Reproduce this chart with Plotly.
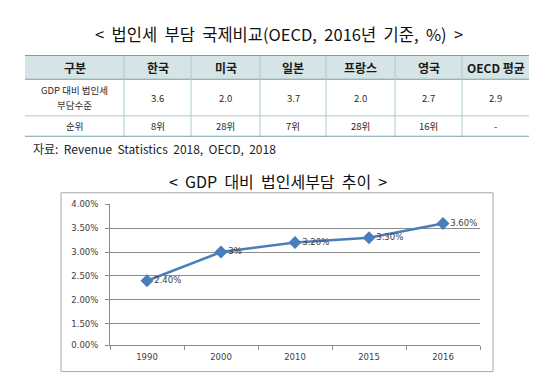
import plotly.graph_objects as go
from itertools import accumulate

# ---------- table data ----------
table_header = ["구분", "한국", "미국", "일본", "프랑스", "영국", "OECD 평균"]
burden_label_lines = ["GDP 대비 법인세", "부담수준"]
rank_label = "순위"
burden = ["3.6", "2.0", "3.7", "2.0", "2.7", "2.9"]
ranks = ["8위", "28위", "7위", "28위", "16위", "-"]

# ---------- line chart data ----------
years = ["1990", "2000", "2010", "2015", "2016"]
tax_share = [2.4, 3.0, 3.2, 3.3, 3.6]
point_labels = ["2.40%", "3%", "3.20%", "3.30%", "3.60%"]
y_tick_labels = ["0.00%", "1.50%", "2.00%", "2.50%", "3.00%", "3.50%", "4.00%"]
y_tick_values = [1.05, 1.5, 2.0, 2.5, 3.0, 3.5, 4.0]  # first tick is the axis floor (broken axis)

# ---------- table geometry (layout, not data) ----------
col_widths = [99, 67, 69, 66, 69, 67, 67]
row_heights = [25, 37.5, 21.5]
label_line_gap = 15

W, H = 550, 391
KR = "Noto Sans CJK KR"
TEAL = "#6fa3a8"
LIGHT_TEAL = "#a9cdd0"


def px(x):
    return x / W


def py(y):
    return 1 - y / H


col_edges = [0] + list(accumulate(col_widths))
row_edges = [0] + list(accumulate(row_heights))
col_centers = [(a + b) / 2 for a, b in zip(col_edges[:-1], col_edges[1:])]
row_centers = [(a + b) / 2 for a, b in zip(row_edges[:-1], row_edges[1:])]

fig = go.Figure()

fig.add_trace(go.Scatter(
    x=years, y=tax_share,
    mode="lines+markers+text",
    text=point_labels,
    textposition="middle right",
    textfont=dict(family="DejaVu Sans", size=8.5, color="#404040"),
    line=dict(color="#4a7ebb", width=2.5),
    marker=dict(symbol="diamond", size=10, color="#4a7ebb"),
    cliponaxis=False,
    showlegend=False,
    hoverinfo="skip",
))

shapes = []
annotations = []

# table: header fill
shapes.append(dict(type="rect", xref="x2", yref="y2", x0=col_edges[0], x1=col_edges[-1],
                   y0=row_edges[0], y1=row_edges[1], fillcolor="#d6e4e5", line=dict(width=0), layer="below"))
# inner horizontal lines
for r in row_edges[1:-1]:
    shapes.append(dict(type="line", xref="x2", yref="y2", x0=col_edges[0], x1=col_edges[-1], y0=r, y1=r,
                       line=dict(color=TEAL if r == row_edges[1] else LIGHT_TEAL, width=1)))
# vertical dividers
for c in col_edges[1:-1]:
    shapes.append(dict(type="line", xref="x2", yref="y2", x0=c, x1=c, y0=row_edges[0], y1=row_edges[-1],
                       line=dict(color=LIGHT_TEAL, width=1)))
# thick top/bottom borders
for r in (row_edges[0], row_edges[-1]):
    shapes.append(dict(type="line", xref="x2", yref="y2", x0=col_edges[0], x1=col_edges[-1], y0=r, y1=r,
                       line=dict(color=TEAL, width=2)))


def cell_text(txt, ci, y, header=False):
    annotations.append(dict(
        text=("<b>%s</b>" % txt) if header else txt, xref="x2", yref="y2", x=col_centers[ci], y=y,
        xanchor="center", yanchor="middle", showarrow=False,
        font=dict(family=KR, size=12 if header else 9.5, color="#1a1a1a" if header else "#2a2a2a"),
    ))


for ci, h in enumerate(table_header):
    cell_text(h, ci, row_centers[0], header=True)

n_lines = len(burden_label_lines)
for li, line in enumerate(burden_label_lines):
    cell_text(line, 0, row_centers[1] + (li - (n_lines - 1) / 2) * label_line_gap)
for ci, v in enumerate(burden, start=1):
    cell_text(v, ci, row_centers[1])

cell_text(rank_label, 0, row_centers[2])
for ci, v in enumerate(ranks, start=1):
    cell_text(v, ci, row_centers[2])

# chart area border
shapes.append(dict(type="rect", xref="paper", yref="paper", x0=px(53), x1=px(485), y0=py(368), y1=py(184.5),
                   line=dict(color="#a6a6a6", width=1), fillcolor="rgba(0,0,0,0)", layer="below"))

annotations += [
    dict(text="&lt;  법인세  부담  국제비교(OECD,  2016년  기준,  %)  &gt;", xref="paper", yref="paper",
         x=px(271), y=py(22), xanchor="center", yanchor="middle", showarrow=False,
         font=dict(family=KR, size=16.5, color="#111111")),
    dict(text="자료:  Revenue  Statistics  2018,  OECD,  2018", xref="paper", yref="paper",
         x=px(23), y=py(139), xanchor="left", yanchor="middle", showarrow=False,
         font=dict(family=KR, size=12, color="#222222")),
    dict(text="&lt;  GDP  대비  법인세부담  추이  &gt;", xref="paper", yref="paper",
         x=px(270), y=py(172.5), xanchor="center", yanchor="middle", showarrow=False,
         font=dict(family=KR, size=16, color="#111111")),
]

fig.update_layout(
    width=W, height=H,
    margin=dict(l=0, r=0, t=0, b=0),
    paper_bgcolor="white",
    plot_bgcolor="white",
    showlegend=False,
    xaxis=dict(
        domain=[px(102), px(472)],
        type="category",
        range=[-0.5, 4.5],
        showline=True, linecolor="#8a8a8a", linewidth=1,
        ticks="outside", tickson="boundaries", ticklen=4, tickcolor="#8a8a8a",
        ticklabelstandoff=4,
        showgrid=False, zeroline=False,
        tickfont=dict(family="DejaVu Sans", size=8.5, color="#404040"),
        fixedrange=True,
    ),
    yaxis=dict(
        domain=[py(341), py(196.3)],
        range=[y_tick_values[0], y_tick_values[-1]],
        tickmode="array", tickvals=y_tick_values, ticktext=y_tick_labels,
        showline=True, linecolor="#8a8a8a", linewidth=1,
        ticks="outside", ticklen=4, tickcolor="#8a8a8a",
        ticklabelstandoff=5,
        showgrid=True, gridcolor="#8c8c8c", gridwidth=1,
        zeroline=False,
        tickfont=dict(family="DejaVu Sans", size=8.5, color="#404040"),
        fixedrange=True,
    ),
    xaxis2=dict(domain=[px(17), px(521)], range=[col_edges[0], col_edges[-1]], visible=False,
                fixedrange=True, anchor="y2"),
    yaxis2=dict(domain=[py(row_edges[-1] + 43), py(43)], range=[row_edges[-1], row_edges[0]], visible=False,
                fixedrange=True, anchor="x2"),
    shapes=shapes,
    annotations=annotations,
)

fig.write_html("out.html")
